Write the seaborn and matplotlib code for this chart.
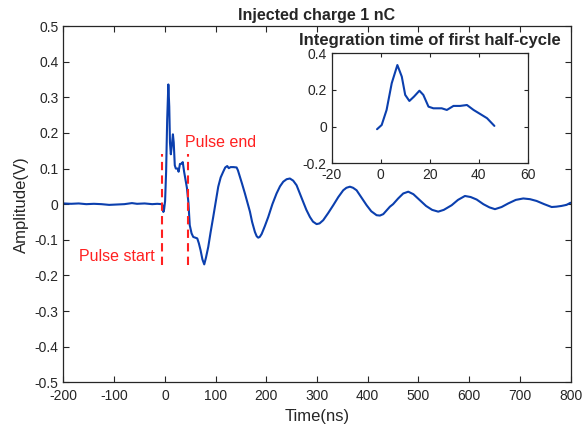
import numpy as np
import pandas as pd
import seaborn as sns
import matplotlib.pyplot as plt

# ─────────────────────────────────────────────
# Data
# ─────────────────────────────────────────────

time_ns = [
    -200, -185, -170, -155, -140, -125, -110, -95, -80, -65, -55, -40, -25, -15, -6,
    -4, -3, -1.5, 0.4, 2.4, 4.5, 6.8, 8.6, 10, 11.7, 13.6, 15.8, 17.4, 19.5, 21.5,
    24.9, 27, 29.7, 32.4, 35.2, 37.9, 40.6, 43.4, 46.4,
    49, 52.6, 55.9, 60, 63.8, 67, 70.3, 74, 77.6, 81, 85.5, 90, 95.3, 100, 105.2,
    110, 115, 119, 122.9, 126, 129.5, 135, 141.4, 144, 148, 152, 157.8, 162, 167.7,
    172, 177.5, 181, 184, 187, 190.7, 197, 203.8, 212, 220.2, 227, 233.4, 240,
    246.5, 253, 259.7, 266, 272.8, 279, 286, 292, 299.2, 305, 312.2, 322, 332, 342,
    351.7, 358, 364.9, 371, 378, 388, 397.8, 407, 417.5, 424, 430.6, 437, 443.8,
    450, 460, 470, 479.9, 490, 503, 515, 527, 539, 550, 565.5, 578, 591.7, 603,
    614.8, 628, 640, 650.9, 664, 677, 692, 706.7, 720, 733, 748, 762.7, 772, 782,
    792, 800,
]

amplitude_v = [
    0.002, 0.001, 0.002, 0.000, 0.001, 0.000, -0.002, -0.001, 0.000, 0.003, 0.001, 0.002, 0.000, 0.001, 0.000,
    -0.005, -0.022, -0.014, 0.009, 0.091, 0.237, 0.336, 0.273, 0.173, 0.140, 0.164, 0.196, 0.173, 0.109, 0.100,
    0.100, 0.091, 0.113, 0.113, 0.118, 0.091, 0.069, 0.046, 0.004,
    -0.059, -0.082, -0.092, -0.094, -0.096, -0.110, -0.129, -0.155, -0.169, -0.150, -0.120, -0.080, -0.036, 0.005, 0.049,
    0.075, 0.091, 0.103, 0.107, 0.101, 0.104, 0.104, 0.103, 0.095, 0.077, 0.058, 0.030, 0.008, -0.021,
    -0.050, -0.078, -0.090, -0.094, -0.092, -0.084, -0.062, -0.036, 0.000, 0.030, 0.050, 0.063, 0.070,
    0.072, 0.066, 0.053, 0.030, 0.006, -0.016, -0.036, -0.049, -0.056, -0.054, -0.045, -0.025, -0.003, 0.020,
    0.039, 0.046, 0.049, 0.046, 0.039, 0.018, -0.003, -0.020, -0.031, -0.032, -0.028, -0.018, -0.007,
    0.000, 0.016, 0.030, 0.035, 0.028, 0.011, -0.005, -0.016, -0.021, -0.016, -0.003, 0.012, 0.023, 0.020,
    0.013, 0.000, -0.009, -0.014, -0.008, 0.002, 0.012, 0.016, 0.014, 0.009, 0.000, -0.008, -0.007, -0.005,
    -0.002, 0.004,
]

pulse_times = [-5, 46]            # Pulse start / Pulse end
pulse_span = (-0.17, 0.14)
inset_window = (-1.5, 46.5)

main_xticks = list(range(-200, 801, 100))
main_yticks = [round(v, 1) for v in np.arange(-0.5, 0.51, 0.1)]
inset_xticks = [-20, 0, 20, 40, 60]
inset_yticks = [-0.2, 0, 0.2, 0.4]

df = pd.DataFrame({"Time": time_ns, "Amplitude": amplitude_v})
df_inset = df[(df["Time"] >= inset_window[0]) & (df["Time"] <= inset_window[1])]

# ─────────────────────────────────────────────
# Style
# ─────────────────────────────────────────────

sns.set_style("ticks")
plt.rcParams["font.family"] = ["Liberation Sans", "DejaVu Sans"]
plt.rcParams["axes.unicode_minus"] = False
plt.rcParams["xtick.direction"] = "in"
plt.rcParams["ytick.direction"] = "in"

LINE_COL = "#0b3fae"
RED = "#ff2020"
TICK_FS = 10


def fmt(v):
    s = f"{v:g}"
    return "0" if s in ("0", "-0") else s


fig = plt.figure(figsize=(5.84, 4.32), dpi=100)
ax = fig.add_axes([0.1087, 0.115, 0.8683, 0.8248])

sns.lineplot(data=df, x="Time", y="Amplitude", ax=ax, color=LINE_COL,
             linewidth=1.5, sort=False, estimator=None)

ax.vlines(pulse_times, pulse_span[0], pulse_span[1], colors=RED,
          linestyles=(0, (4, 2.5)), linewidth=1.5)
ax.text(-20, -0.146, "Pulse start", color=RED, fontsize=11.5,
        ha="right", va="center")
ax.text(39, 0.174, "Pulse end", color=RED, fontsize=11.5,
        ha="left", va="center")

ax.set_xlim(-200, 800)
ax.set_ylim(-0.5, 0.5)
ax.set_xticks(main_xticks)
ax.set_xticklabels([fmt(v) for v in main_xticks], fontsize=TICK_FS)
ax.set_yticks(main_yticks)
ax.set_yticklabels([fmt(v) for v in main_yticks], fontsize=TICK_FS)
ax.tick_params(top=True, right=True, length=4, width=0.8, colors="#262626")
ax.tick_params(axis="x", pad=5)
for s in ax.spines.values():
    s.set_linewidth(0.9)
    s.set_color("#262626")
ax.set_xlabel("Time(ns)", fontsize=12)
ax.set_ylabel("Amplitude(V)", fontsize=12)
ax.set_title("Injected charge 1 nC", fontsize=11.5, fontweight="bold", pad=4)

# ─────────────────────────────────────────────
# Inset
# ─────────────────────────────────────────────

axin = fig.add_axes([0.568, 0.622, 0.3356, 0.2546])
sns.lineplot(data=df_inset, x="Time", y="Amplitude", ax=axin, color=LINE_COL,
             linewidth=1.5, sort=False, estimator=None)
axin.set_xlim(-20, 60)
axin.set_ylim(-0.2, 0.4)
axin.set_xticks(inset_xticks)
axin.set_xticklabels([fmt(v) for v in inset_xticks], fontsize=TICK_FS)
axin.set_yticks(inset_yticks)
axin.set_yticklabels([fmt(v) for v in inset_yticks], fontsize=TICK_FS)
axin.tick_params(top=True, right=True, length=3, width=0.8, colors="#262626")
for s in axin.spines.values():
    s.set_linewidth(0.9)
    s.set_color("#262626")
axin.set_xlabel("")
axin.set_ylabel("")
axin.set_title("Integration time of first half-cycle", fontsize=12,
               fontweight="bold", pad=6)

fig.savefig("out.png", dpi=100)
